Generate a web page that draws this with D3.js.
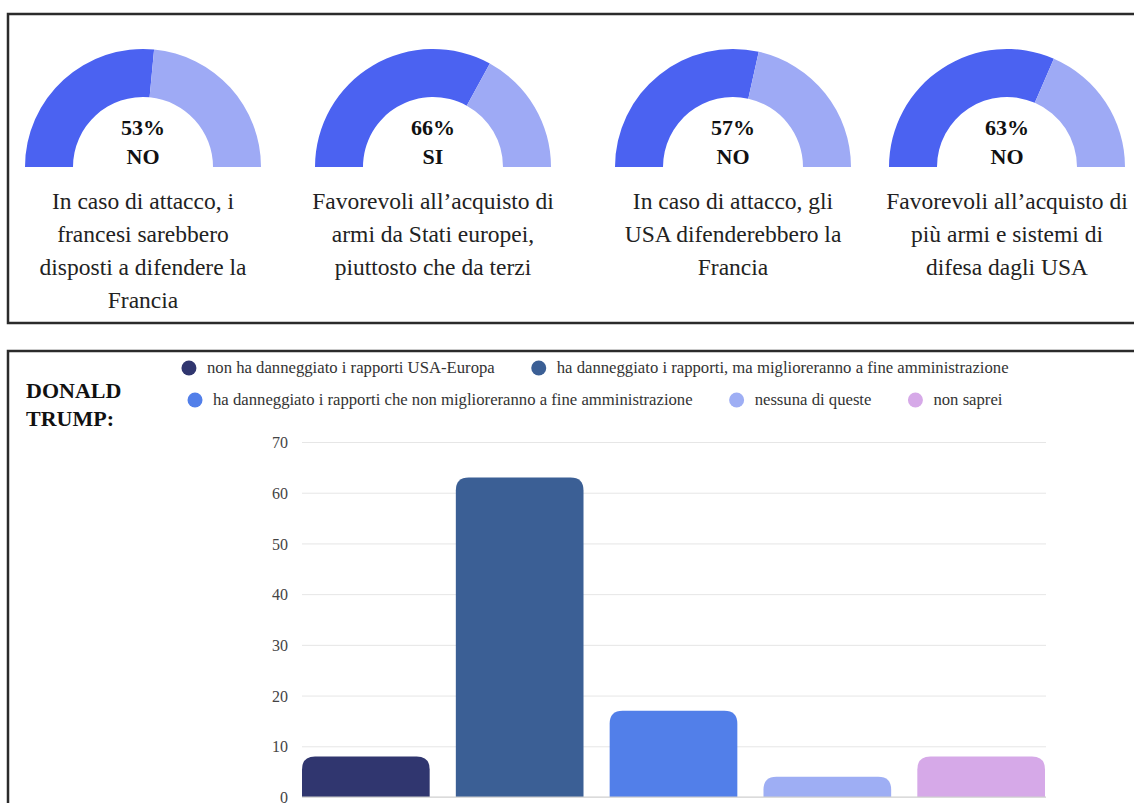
<!DOCTYPE html>
<html>
<head>
<meta charset="utf-8">
<title>index.html</title>
<style>
  body { margin: 0; background: #fff; }
  svg { display: block; font-family: "Liberation Serif", "Times New Roman", serif; }
  .pct { font-weight: bold; font-size: 22px; fill: #111; }
  .desc { font-size: 23.5px; fill: #222; }
  .leg { font-size: 16.7px; fill: #333; }
  .tick text { font-size: 16px; fill: #444; }
</style>
</head>
<body>
<svg width="1134" height="803"></svg>
<script src="https://d3js.org/d3.v7.min.js"></script>
<script>
// ---- data ----
var gaugeValues = [53, 66, 57, 63];
var gaugeAnswers = ["NO", "SI", "NO", "NO"];
var gaugeTexts = [
  ["In caso di attacco, i", "francesi sarebbero", "disposti a difendere la", "Francia"],
  ["Favorevoli all\u2019acquisto di", "armi da Stati europei,", "piuttosto che da terzi"],
  ["In caso di attacco, gli", "USA difenderebbero la", "Francia"],
  ["Favorevoli all\u2019acquisto di", "più armi e sistemi di", "difesa dagli USA"]
];

var barCategories = [
  "non ha danneggiato i rapporti USA-Europa",
  "ha danneggiato i rapporti, ma miglioreranno a fine amministrazione",
  "ha danneggiato i rapporti che non miglioreranno a fine amministrazione",
  "nessuna di queste",
  "non saprei"
];
var barValues = [8, 63, 17, 4, 8];
var barColors = ["#30366f", "#3b5f95", "#527fe9", "#9eaef4", "#d6a9e8"];
var yTicks = [0, 10, 20, 30, 40, 50, 60, 70];
var legendRows = [[0, 1], [2, 3, 4]];

var svg = d3.select("svg"),
    width = +svg.attr("width"),
    height = +svg.attr("height");

// ---- frames ----
svg.append("rect")
  .attr("x", 8).attr("y", 14).attr("width", 1140).attr("height", 309)
  .attr("fill", "none").attr("stroke", "#2b2b2b").attr("stroke-width", 2.5);
svg.append("rect")
  .attr("x", 8).attr("y", 351).attr("width", 1140).attr("height", 470)
  .attr("fill", "none").attr("stroke", "#2b2b2b").attr("stroke-width", 2.5);

// ---- gauges ----
var gaugeX = [143, 433, 733, 1007],
    gaugeY = 167,
    rOuter = 118,
    rInner = 70;

var arc = d3.arc().innerRadius(rInner).outerRadius(rOuter);
var angle = d3.scaleLinear().domain([0, 100]).range([-Math.PI / 2, Math.PI / 2]);

gaugeValues.forEach(function(v, i) {
  var g = svg.append("g").attr("transform", "translate(" + gaugeX[i] + "," + gaugeY + ")");
  g.append("path")
    .attr("d", arc({ startAngle: angle(0), endAngle: angle(v) }))
    .attr("fill", "#4b62f1");
  g.append("path")
    .attr("d", arc({ startAngle: angle(v), endAngle: angle(100) }))
    .attr("fill", "#9eaaf5");
  g.append("text").attr("class", "pct")
    .attr("text-anchor", "middle").attr("y", -32)
    .text(v + "%");
  g.append("text").attr("class", "pct")
    .attr("text-anchor", "middle").attr("y", -3)
    .text(gaugeAnswers[i]);

  svg.append("text").attr("class", "desc")
    .attr("text-anchor", "middle")
    .selectAll("tspan")
    .data(gaugeTexts[i])
    .enter().append("tspan")
      .attr("x", gaugeX[i])
      .attr("y", function(d, j) { return 209 + j * 33; })
      .text(function(d) { return d; });
});

// ---- bar chart ----
svg.append("text")
  .attr("x", 26).attr("y", 398)
  .attr("font-weight", "bold").attr("font-size", 22).attr("fill", "#111")
  .text("DONALD");
svg.append("text")
  .attr("x", 26).attr("y", 426)
  .attr("font-weight", "bold").attr("font-size", 22).attr("fill", "#111")
  .text("TRUMP:");

var x = d3.scaleBand()
    .domain(barCategories)
    .range([302, 1045])
    .paddingInner(0.17)
    .paddingOuter(0);

var y = d3.scaleLinear()
    .domain([0, 70])
    .range([797, 442]);

var yAxis = svg.append("g")
  .attr("transform", "translate(302,0)")
  .call(d3.axisLeft(y).tickValues(yTicks).tickSize(-(1046 - 302)).tickPadding(14));
yAxis.attr("font-family", null).attr("font-size", null);
yAxis.select(".domain").remove();
yAxis.selectAll(".tick line").attr("stroke", "#e6e6e6");
yAxis.selectAll(".tick text").attr("dy", "0.35em");

function topRounded(x0, y0, w, h, r) {
  r = Math.min(r, h, w / 2);
  return "M" + x0 + "," + (y0 + h) +
    "V" + (y0 + r) +
    "Q" + x0 + "," + y0 + " " + (x0 + r) + "," + y0 +
    "H" + (x0 + w - r) +
    "Q" + (x0 + w) + "," + y0 + " " + (x0 + w) + "," + (y0 + r) +
    "V" + (y0 + h) + "Z";
}

svg.selectAll(".bar")
  .data(barValues)
  .enter().append("path")
    .attr("class", "bar")
    .attr("fill", function(d, i) { return barColors[i]; })
    .attr("d", function(d, i) {
      return topRounded(x(barCategories[i]), y(d), x.bandwidth(), y(0) - y(d), 13);
    });

svg.append("line")
  .attr("x1", 302).attr("x2", 1046).attr("y1", y(0)).attr("y2", y(0))
  .attr("stroke", "#cfcfcf").attr("stroke-width", 1);

// ---- legend ----
var legendY = [368, 400],
    legendCenter = 595,
    dotR = 7.5,
    dotGap = 18,
    itemGap = 44;

legendRows.forEach(function(row, ri) {
  var lg = svg.append("g");
  var cursor = 0;
  row.forEach(function(idx) {
    var it = lg.append("g").attr("transform", "translate(" + cursor + ",0)");
    it.append("circle").attr("cx", 0).attr("cy", legendY[ri]).attr("r", dotR)
      .attr("fill", barColors[idx]);
    var t = it.append("text").attr("class", "leg")
      .attr("x", dotGap).attr("y", legendY[ri] + 5)
      .text(barCategories[idx]);
    cursor += dotGap + t.node().getComputedTextLength() + itemGap;
  });
  var total = cursor - itemGap + dotR;
  lg.attr("transform", "translate(" + (legendCenter - total / 2 + dotR) + ",0)");
});
</script>
</body>
</html>
